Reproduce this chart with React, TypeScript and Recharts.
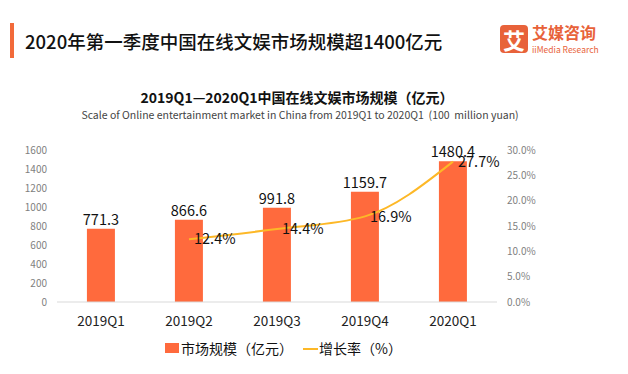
import { ComposedChart, Bar, Line, XAxis, YAxis, LabelList } from "recharts";

const quarters = ["2019Q1", "2019Q2", "2019Q3", "2019Q4", "2020Q1"];
const marketSize = [771.3, 866.6, 991.8, 1159.7, 1480.4];
const growthRate: (number | null)[] = [null, 12.4, 14.4, 16.9, 27.7];
const leftTicks = [0, 200, 400, 600, 800, 1000, 1200, 1400, 1600];
const rightTicks = [0, 5, 10, 15, 20, 25, 30];

const data = quarters.map((q, i) => ({
  quarter: q,
  size: marketSize[i],
  growth: growthRate[i],
}));

const FONT = '"Noto Sans CJK SC", "Noto Sans", sans-serif';
const BAR = "#ff6a3d";
const LINE = "#fdb827";

export default function App() {
  return (
    <div
      style={{
        position: "absolute",
        left: 0,
        top: 0,
        width: 628,
        height: 374,
        background: "#fff",
        fontFamily: FONT,
        overflow: "hidden",
      }}
    >
      <div style={{ position: "absolute", left: 10, top: 23, width: 4, height: 35, background: "#f26a3a" }} />
      <div
        style={{
          position: "absolute",
          left: 25,
          top: 28,
          fontSize: 18.5,
          fontWeight: 500,
          color: "#111",
          lineHeight: "26px",
          whiteSpace: "nowrap",
        }}
      >
        2020年第一季度中国在线文娱市场规模超1400亿元
      </div>

      {/* logo */}
      <div
        style={{
          position: "absolute",
          left: 500,
          top: 25,
          width: 28,
          height: 28,
          borderRadius: 4,
          background: "#e8623a",
          color: "#fff",
          fontSize: 22,
          fontWeight: 700,
          lineHeight: "28px",
          textAlign: "center",
        }}
      >
        艾
      </div>
      <div
        style={{
          position: "absolute",
          left: 532,
          top: 24,
          fontSize: 16,
          fontWeight: 700,
          color: "#e8623a",
          lineHeight: "16px",
          whiteSpace: "nowrap",
        }}
      >
        艾媒咨询
      </div>
      <div
        style={{
          position: "absolute",
          left: 532,
          top: 44,
          fontSize: 8.5,
          color: "#e8623a",
          lineHeight: "10px",
          whiteSpace: "nowrap",
        }}
      >
        iiMedia Research
      </div>

      <div
        style={{
          position: "absolute",
          left: 0,
          width: 594,
          top: 87,
          textAlign: "center",
          fontSize: 14,
          fontWeight: 700,
          color: "#111",
          lineHeight: "20px",
        }}
      >
        2019Q1—2020Q1中国在线文娱市场规模（亿元）
      </div>
      <div
        style={{
          position: "absolute",
          left: 0,
          width: 600,
          top: 107,
          textAlign: "center",
          fontSize: 10.5,
          color: "#444",
          lineHeight: "16px",
          whiteSpace: "pre",
        }}
      >
        {"Scale of Online entertainment market in China from 2019Q1 to 2020Q1  (100  million yuan)"}
      </div>

      <div style={{ position: "absolute", left: 0, top: 0 }}>
        <ComposedChart
          width={628}
          height={374}
          data={data}
          margin={{ top: 150, right: 81, bottom: 42, left: 17 }}
          barCategoryGap="34%"
        >
          <XAxis
            dataKey="quarter"
            height={30}
            tickLine={false}
            axisLine={{ stroke: "#d9d9d9" }}
            tickMargin={8}
            interval={0}
            tick={{ fontSize: 13.5, fill: "#222", fontFamily: FONT }}
          />
          <YAxis
            yAxisId="left"
            width={40}
            domain={[0, 1600]}
            ticks={leftTicks}
            interval={0}
            axisLine={false}
            tickLine={false}
            tickMargin={4}
            tick={{ fontSize: 10, fill: "#7f7f7f", fontFamily: FONT }}
          />
          <YAxis
            yAxisId="right"
            orientation="right"
            width={50}
            domain={[0, 30]}
            ticks={rightTicks}
            interval={0}
            axisLine={false}
            tickLine={false}
            tickMargin={4}
            tickFormatter={(v: number) => v.toFixed(1) + "%"}
            tick={{ fontSize: 10, fill: "#7f7f7f", fontFamily: FONT, textAnchor: "start" }}
          />
          <Bar yAxisId="left" dataKey="size" fill={BAR} isAnimationActive={false}>
            <LabelList
              dataKey="size"
              position="top"
              offset={4}
              style={{ fontSize: 14.5, fill: "#111", fontFamily: FONT }}
            />
          </Bar>
          <Line
            yAxisId="right"
            dataKey="growth"
            type="monotone"
            stroke={LINE}
            strokeWidth={2}
            dot={false}
            activeDot={false}
            isAnimationActive={false}
          >
            <LabelList
              dataKey="growth"
              position="right"
              offset={5}
              formatter={(v: any) => (v == null ? "" : v.toFixed(1) + "%")}
              style={{ fontSize: 14.5, fill: "#111", fontFamily: FONT }}
            />
          </Line>
        </ComposedChart>
      </div>

      {/* legend */}
      <div style={{ position: "absolute", left: 165, top: 343, width: 14, height: 10, background: BAR }} />
      <div
        style={{
          position: "absolute",
          left: 181,
          top: 338,
          fontSize: 14,
          color: "#111",
          lineHeight: "20px",
          whiteSpace: "nowrap",
        }}
      >
        市场规模（亿元）
      </div>
      <div style={{ position: "absolute", left: 303, top: 348, width: 15, height: 2, background: LINE }} />
      <div
        style={{
          position: "absolute",
          left: 319,
          top: 338,
          fontSize: 14,
          color: "#111",
          lineHeight: "20px",
          whiteSpace: "nowrap",
        }}
      >
        增长率（%）
      </div>
    </div>
  );
}
